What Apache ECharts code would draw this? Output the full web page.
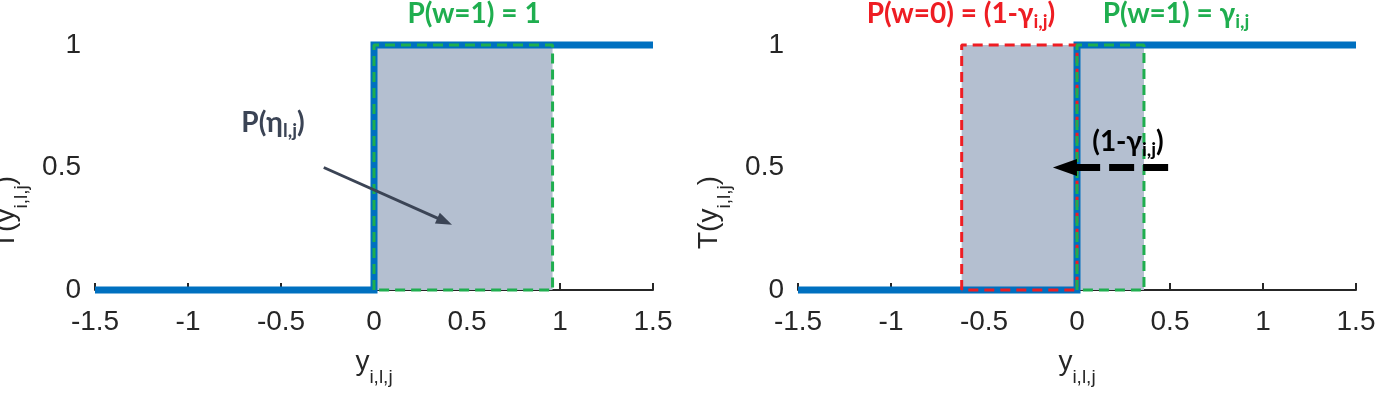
<!DOCTYPE html>
<html>
<head>
<meta charset="utf-8">
<script src="https://cdn.jsdelivr.net/npm/echarts@6/dist/echarts.min.js"></script>
<style>
  html, body { margin: 0; padding: 0; background: #fff; }
  #chart { width: 1380px; height: 407px; }
</style>
</head>
<body>
<div id="chart"></div>
<script>
// axis ranges / ticks
const xMin = -1.5, xMax = 1.5, xStep = 0.5;
const yMin = 0, yMax = 1, yStep = 0.5;

// step function T(y) drawn in both panels
const stepX = [-1.5, 0, 0, 1.5];
const stepY = [0, 0, 1, 1];

// probability boxes (x ranges), height 0..1
const leftGreenBox = [0, 0.96];
const rightRedBox = [-0.62, 0];
const rightGreenBox = [0, 0.36];
const boxTop = 1;

// arrows: [tail, head centre]
const leftArrow = [[-0.27, 0.5], [0.38, 0.28]];
const rightArrow = [[0.49, 0.5], [-0.065, 0.5]];
const rightArrowBase = [0, 0.5]; // dashes stop here, solid head part starts

const BLUE = "#0070C0";
const GREEN = "#1FAE4F";
const RED = "#EE1D23";
const FILL = "#B4BFD0";
const AXIS = "#262626";
const SLATE = "#3B4455";
const TICK_FONT = "Liberation Sans";
const NOTE_FONT = "Lato";

function boxPath(xr) {
  return [[xr[0], 0], [xr[0], boxTop], [xr[1], boxTop], [xr[1], 0], [xr[0], 0]];
}

function stepData() {
  return stepX.map((x, i) => [x, stepY[i]]);
}

const subRich = {
  m: { fontFamily: TICK_FONT, fontSize: 28, color: AXIS },
  s: { fontFamily: TICK_FONT, fontSize: 19, color: AXIS, padding: [30, 0, 0, 0] }
};

function makeXAxis(gridIndex) {
  return {
    type: "value",
    gridIndex: gridIndex,
    min: xMin,
    max: xMax,
    interval: xStep,
    name: "{m|y}{s|i,l,j}",
    nameLocation: "middle",
    nameGap: 48,
    nameTextStyle: { rich: subRich },
    axisLine: { onZero: false, lineStyle: { color: AXIS, width: 2 } },
    axisTick: { inside: true, length: 7, lineStyle: { color: AXIS, width: 2 } },
    axisLabel: { margin: 18, color: AXIS, fontFamily: TICK_FONT, fontSize: 28 },
    splitLine: { show: false }
  };
}

function makeYAxis(gridIndex) {
  return {
    type: "value",
    gridIndex: gridIndex,
    min: yMin,
    max: yMax,
    interval: yStep,
    name: "{m|T(y}{s|i,l,j}{m|)}",
    nameLocation: "middle",
    nameRotate: 90,
    nameGap: 64,
    nameTextStyle: { rich: subRich, padding: [0, 90, 0, 0] },
    axisLine: { lineStyle: { color: AXIS, width: 2 } },
    axisTick: { inside: true, length: 7, lineStyle: { color: AXIS, width: 2 } },
    axisLabel: { margin: 14, color: AXIS, fontFamily: TICK_FONT, fontSize: 28 },
    splitLine: { show: false }
  };
}

function fillSeries(idx, xr) {
  return {
    type: "line",
    xAxisIndex: idx,
    yAxisIndex: idx,
    data: [[xr[0], boxTop], [xr[1], boxTop]],
    symbol: "none",
    lineStyle: { width: 0 },
    areaStyle: { color: FILL, opacity: 1, origin: "start" },
    z: 1
  };
}

function stepSeries(idx) {
  return {
    type: "line",
    xAxisIndex: idx,
    yAxisIndex: idx,
    data: stepData(),
    symbol: "none",
    clip: false,
    lineStyle: { color: BLUE, width: 7, cap: "butt", join: "miter" },
    z: 2
  };
}

function boxSeries(idx, xr, color) {
  return {
    type: "line",
    xAxisIndex: idx,
    yAxisIndex: idx,
    data: boxPath(xr),
    symbol: "none",
    clip: false,
    lineStyle: { color: color, width: 3, type: [10, 6] },
    z: 3
  };
}

function arrowHead(idx, from, to, color, width, size) {
  return {
    type: "line",
    xAxisIndex: idx,
    yAxisIndex: idx,
    data: [],
    z: 4,
    markLine: {
      silent: true,
      symbol: ["none", "triangle"],
      symbolSize: size,
      label: { show: false },
      lineStyle: { color: color, width: width, type: "solid" },
      data: [[{ coord: from }, { coord: to }]]
    }
  };
}

const noteRich = (color) => ({
  s: { fontFamily: NOTE_FONT, fontWeight: "bold", fontSize: 19, fill: color, color: color, padding: [16, 0, 0, 0] }
});

function note(x, y, text, color) {
  return {
    type: "text",
    x: x,
    y: y,
    z: 10,
    style: {
      text: text,
      fill: color,
      fontFamily: NOTE_FONT,
      fontWeight: "bold",
      fontSize: 28,
      align: "center",
      verticalAlign: "middle",
      rich: noteRich(color)
    }
  };
}

const chart = echarts.init(document.getElementById("chart"), null, { renderer: "canvas" });
chart.setOption({
  animation: false,
  backgroundColor: "#fff",
  grid: [
    { left: 95, right: 727, top: 45, bottom: 117, containLabel: false, outerBoundsMode: "none" },
    { left: 798, right: 24, top: 45, bottom: 117, containLabel: false, outerBoundsMode: "none" }
  ],
  xAxis: [makeXAxis(0), makeXAxis(1)],
  yAxis: [makeYAxis(0), makeYAxis(1)],
  series: [
    fillSeries(0, leftGreenBox),
    stepSeries(0),
    boxSeries(0, leftGreenBox, GREEN),
    arrowHead(0, leftArrow[0], leftArrow[1], SLATE, 3, [12, 16]),
    fillSeries(1, [rightRedBox[0], rightGreenBox[1]]),
    stepSeries(1),
    boxSeries(1, rightRedBox, RED),
    boxSeries(1, rightGreenBox, GREEN),
    {
      type: "line",
      xAxisIndex: 1,
      yAxisIndex: 1,
      data: [rightArrow[0], rightArrowBase],
      symbol: "none",
      clip: false,
      lineStyle: { color: "#000", width: 7, type: [25, 9], cap: "butt" },
      z: 4
    },
    arrowHead(1, rightArrowBase, rightArrow[1], "#000", 7, [17, 24])
  ],
  graphic: [
    note(474, 14, "P(w=1) = 1", GREEN),
    note(273, 123, "P(η{s|l,j})", SLATE),
    note(961, 14, "P(w=0) = (1-γ{s|i,j})", RED),
    note(1176, 14, "P(w=1) = γ{s|i,j}", GREEN),
    note(1128, 142, "(1-γ{s|i,j})", "#000")
  ]
});
</script>
</body>
</html>
